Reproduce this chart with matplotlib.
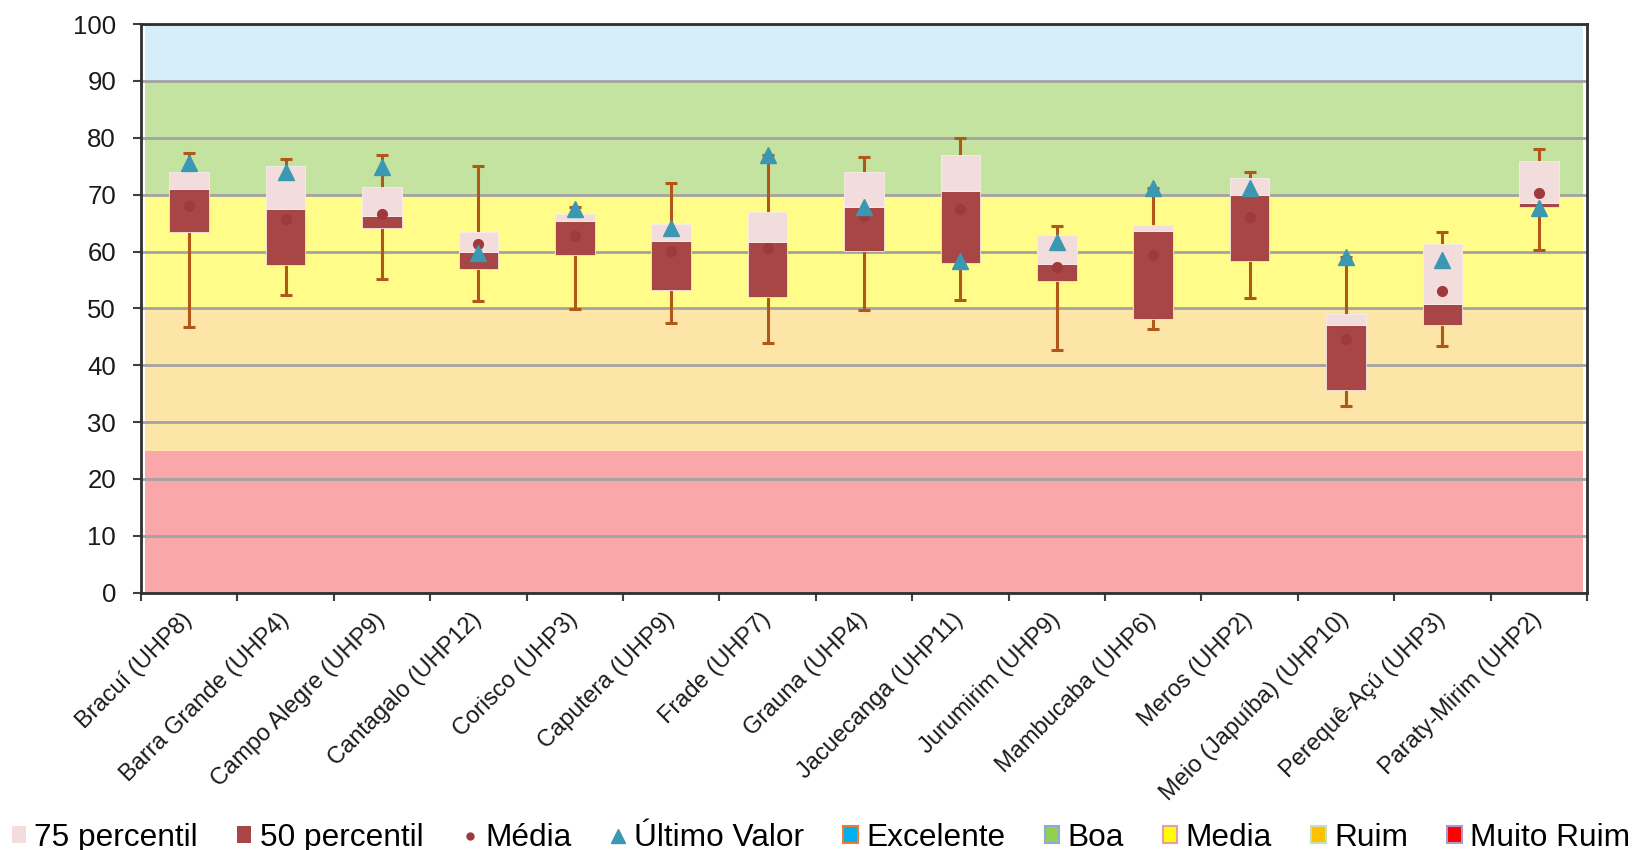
import matplotlib
matplotlib.use('Agg')
import matplotlib.pyplot as plt
from matplotlib.patches import Patch
from matplotlib.lines import Line2D
import numpy as np

plt.rcParams['font.family'] = ['Liberation Sans', 'DejaVu Sans']

categories = ["Bracuí (UHP8)", "Barra Grande (UHP4)", "Campo Alegre (UHP9)", "Cantagalo (UHP12)",
              "Corisco (UHP3)", "Caputera (UHP9)", "Frade (UHP7)", "Grauna (UHP4)",
              "Jacuecanga (UHP11)", "Jurumirim (UHP9)", "Mambucaba (UHP6)", "Meros (UHP2)",
              "Meio (Japuíba) (UHP10)", "Perequê-Açú (UHP3)", "Paraty-Mirim (UHP2)"]
whisker_low = [46.8, 52.4, 55.2, 51.3, 49.9, 47.5, 43.9, 49.8, 51.5, 42.6, 46.3, 51.9, 32.9, 43.3, 60.3]
p25 = [63.5, 57.6, 64.2, 56.9, 59.4, 53.3, 52.0, 60.1, 58.0, 54.8, 48.1, 58.4, 35.6, 47.0, 67.9]
p50 = [71.0, 67.5, 66.2, 59.9, 65.3, 61.9, 61.6, 67.8, 70.6, 57.8, 63.6, 70.0, 47.0, 50.8, 68.6]
p75 = [73.9, 75.0, 71.3, 63.5, 66.6, 64.8, 67.0, 73.9, 76.9, 62.9, 64.7, 73.0, 49.0, 61.3, 76.0]
whisker_high = [77.4, 76.3, 76.9, 75.0, 67.8, 72.1, 77.0, 76.7, 79.9, 64.5, 71.2, 74.0, 59.1, 63.5, 78.1]
media = [68.0, 65.8, 66.6, 61.3, 62.8, 60.1, 60.6, 66.2, 67.5, 57.3, 59.3, 66.1, 44.7, 53.1, 70.3]
ultimo = [75.5, 74.0, 74.9, 59.8, 67.4, 64.1, 77.0, 67.8, 58.4, 61.6, 71.2, 71.1, 59.1, 58.5, 67.6]

band_names = ["Muito Ruim", "Ruim", "Media", "Boa", "Excelente"]
band_limits = [0, 25, 50, 70, 90, 100]
yticks = list(range(0, 101, 10))

band_fill = ['#F9A7A8', '#FCE5A6', '#FFFC8A', '#C4E3A0', '#D6EEF8']
legend_fill = {'Excelente': '#00B0F0', 'Boa': '#92D050', 'Media': '#FFFF00',
               'Ruim': '#FFC000', 'Muito Ruim': '#FF0000'}
legend_edge = {'Excelente': '#ED7D31', 'Boa': '#8EA9DB', 'Media': '#E6A0A0',
               'Ruim': '#C5E0B4', 'Muito Ruim': '#A99BD0'}

c75 = '#F2DCDC'
c50 = '#A84545'
cmean = '#A0393B'
cult = '#3A98B3'
cwhisk = '#B0581A'

fig = plt.figure(figsize=(16.32, 8.5), dpi=100)
ax = fig.add_axes([0.0864, 0.3027, 0.886, 0.669])

x = np.arange(len(categories))
lo = np.array(whisker_low); hi = np.array(whisker_high)
q25 = np.array(p25); q50 = np.array(p50); q75 = np.array(p75)

# quality bands
for i in range(len(band_names)):
    ax.axhspan(band_limits[i], band_limits[i + 1], xmin=0.003, xmax=0.997,
               color=band_fill[i], lw=0, zorder=0)

# whiskers
ax.errorbar(x, q50, yerr=[q50 - lo, hi - q50], fmt='none', ecolor=cwhisk,
            elinewidth=2.2, capsize=4, capthick=2.2, zorder=3)

w = 0.41
ax.bar(x, q50 - q25, bottom=q25, width=w, color=c50, edgecolor='#F5E6E6', lw=0.6, zorder=4)
ax.bar(x, q75 - q50, bottom=q50, width=w, color=c75, edgecolor='#F8ECEC', lw=0.6, zorder=4)
ax.plot(x, media, 'o', color=cmean, ms=7, ls='none', zorder=5)
ax.plot(x, ultimo, '^', color=cult, ms=11.5, ls='none', zorder=6)

ax.set_xlim(-0.5, len(categories) - 0.5)
ax.set_ylim(0, 100)
ax.set_yticks(yticks)
ax.yaxis.grid(True, color='#A3A3A3', lw=2)
ax.set_axisbelow(True)
ax.tick_params(axis='y', length=6, width=1.5, color='#404040', pad=12, labelsize=18.5,
               labelcolor='#1A1A1A')

ax.set_xticks(x)
ax.set_xticklabels(categories, rotation=45, ha='right', va='center', rotation_mode='anchor',
                   fontsize=17, color='#1A1A1A')
ax.tick_params(axis='x', which='major', length=0, pad=17)
ax.set_xticks(np.arange(-0.5, len(categories), 1), minor=True)
ax.tick_params(axis='x', which='minor', length=6, width=1.5, color='#404040')

for s in ax.spines.values():
    s.set_color('#303030')
    s.set_linewidth(2)

handles = [Patch(facecolor=c75, edgecolor='none'),
           Patch(facecolor=c50, edgecolor='none'),
           Line2D([], [], marker='o', color=cmean, ls='none', ms=5),
           Line2D([], [], marker='^', color=cult, ls='none', ms=10)]
labels = ['75 percentil', '50 percentil', 'Média', 'Último Valor']
for nm in ['Excelente', 'Boa', 'Media', 'Ruim', 'Muito Ruim']:
    handles.append(Patch(facecolor=legend_fill[nm], edgecolor=legend_edge[nm], lw=1.5))
    labels.append(nm)

fig.legend(handles, labels, loc='center', bbox_to_anchor=(0.503, 0.014), ncol=9,
           frameon=False, fontsize=22.8, handlelength=0.45, handleheight=0.45,
           handletextpad=0.27, columnspacing=1.24, borderaxespad=0, borderpad=0)

fig.savefig('out.png', dpi=100)
